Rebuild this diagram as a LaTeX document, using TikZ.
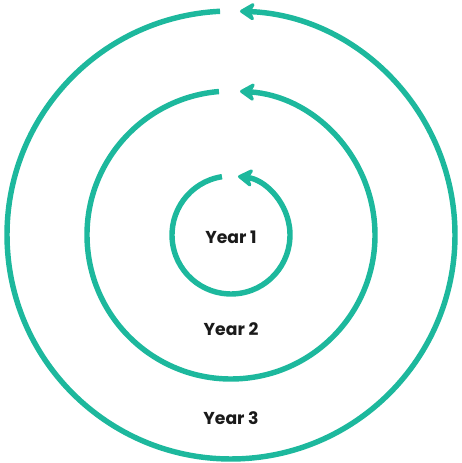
\documentclass[tikz,border=0pt]{standalone}
\usepackage{fontspec}
\setmainfont{Poppins}
\usetikzlibrary{arrows.meta}
\definecolor{ringteal}{HTML}{1DB89D}
\definecolor{labelink}{HTML}{1A1A1A}

\begin{document}
\begin{tikzpicture}[
        x=0.02cm, y=0.02cm,
        >={Stealth[length=10pt, width=12.5pt, inset=3pt, round]},
        ring/.style={draw=ringteal, line width=3.1pt, ->},
        year/.style={font=\fontsize{9.8}{11}\selectfont\bfseries, text=labelink}
    ]
        \useasboundingbox (0,0) rectangle (461,463);
        \coordinate (c) at (231,228);
        % rings, each open at the top with its arrow
        \foreach \r/\a/\b in {224/92.8/447.7, 144/94.8/446.4, 59/98.8/443.2}
            \draw[ring] (c) ++(\a:\r) arc[start angle=\a, end angle=\b, radius=\r];
        \node[year] (y1) at (231,226) {Year 1};
        \node[year] (y2) at (231,134) {Year 2};
        \node[year] (y3) at (231,45) {Year 3};
\end{tikzpicture}
\end{document}
